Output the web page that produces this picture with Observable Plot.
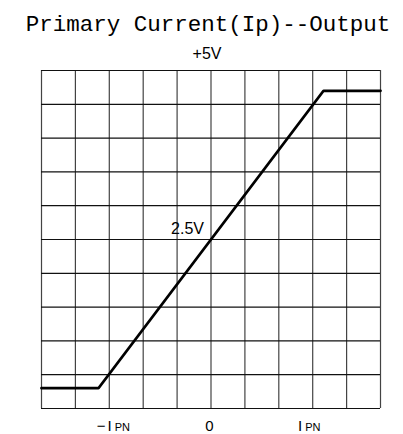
<!DOCTYPE html>
<html>
<head>
<meta charset="utf-8">
<script src="https://cdn.jsdelivr.net/npm/d3@7"></script>
<script src="https://cdn.jsdelivr.net/npm/@observablehq/plot@0.6"></script>
<style>
  html, body { margin: 0; padding: 0; background: #fff; }
</style>
</head>
<body>
<div id="chart"></div>
<script>
const title = "Primary Current(Ip)--Output";
const topLabel = "+5V";
const midLabel = "2.5V";
// output curve (x: primary current in grid units, IPN = 3; y: output volts)
const curveX = [-5, -3.32, 3.32, 5];
const curveY = [0.3, 0.3, 4.7, 4.7];
// grid lines
const gridX = [-5, -4, -3, -2, -1, 0, 1, 2, 3, 4, 5];
const gridY = [0, 0.5, 1, 1.5, 2, 2.5, 3, 3.5, 4, 4.5, 5];
// bottom labels
const tickLabels = ["−IPN", "0", "IPN"];
const tickPos = [-2.88, -0.05, 2.9];

const curve = curveX.map((x, i) => ({x, y: curveY[i]}));
const ticks = tickLabels.map((t, i) => ({t, x: tickPos[i]}));

const chart = Plot.plot({
  width: 403,
  height: 434,
  marginTop: 70,
  marginBottom: 26,
  marginLeft: 41,
  marginRight: 23,
  x: {domain: [-5, 5], axis: null},
  y: {domain: [0, 5], axis: null},
  style: {background: "#fff"},
  marks: [
    Plot.ruleX(gridX, {stroke: "#222", strokeWidth: 1.2, strokeOpacity: 0.85}),
    Plot.ruleY(gridY, {stroke: "#111", strokeWidth: 1.2}),
    Plot.line(curve, {x: "x", y: "y", stroke: "#000", strokeWidth: 2.8, strokeLinejoin: "miter"}),
    Plot.text([midLabel], {x: 0, y: 2.5, text: d => d, textAnchor: "end", lineAnchor: "bottom",
      dx: -7, dy: -6, fontSize: 16, fontFamily: "Liberation Sans", fill: "#000", letterSpacing: 1}),
    Plot.text([topLabel], {frameAnchor: "top", text: d => d, lineAnchor: "bottom", dy: -12, dx: -4,
      fontSize: 16, fontFamily: "Liberation Sans", fill: "#000"}),
    Plot.text([title], {frameAnchor: "top", text: d => d, lineAnchor: "bottom", dy: -40, dx: -3,
      fontSize: 22.5, fontFamily: "Liberation Mono", fill: "#000"}),
    Plot.text(ticks, {x: "x", frameAnchor: "bottom", text: "t", lineAnchor: "bottom", dy: 22,
      fontSize: 15, fontFamily: "Liberation Sans", fill: "#000", className: "ticklab"})
  ]
});

// render "PN" in smaller caps after the "I"
d3.select(chart).selectAll(".ticklab text").each(function() {
  const el = d3.select(this);
  const s = el.text();
  const i = s.indexOf("PN");
  if (i >= 0) {
    el.text(null);
    el.append("tspan").text(s.slice(0, i)).attr("letter-spacing", 2);
    el.append("tspan").text("PN").attr("font-size", 11).attr("dx", 1);
  }
});

document.getElementById("chart").appendChild(chart);
</script>
</body>
</html>
